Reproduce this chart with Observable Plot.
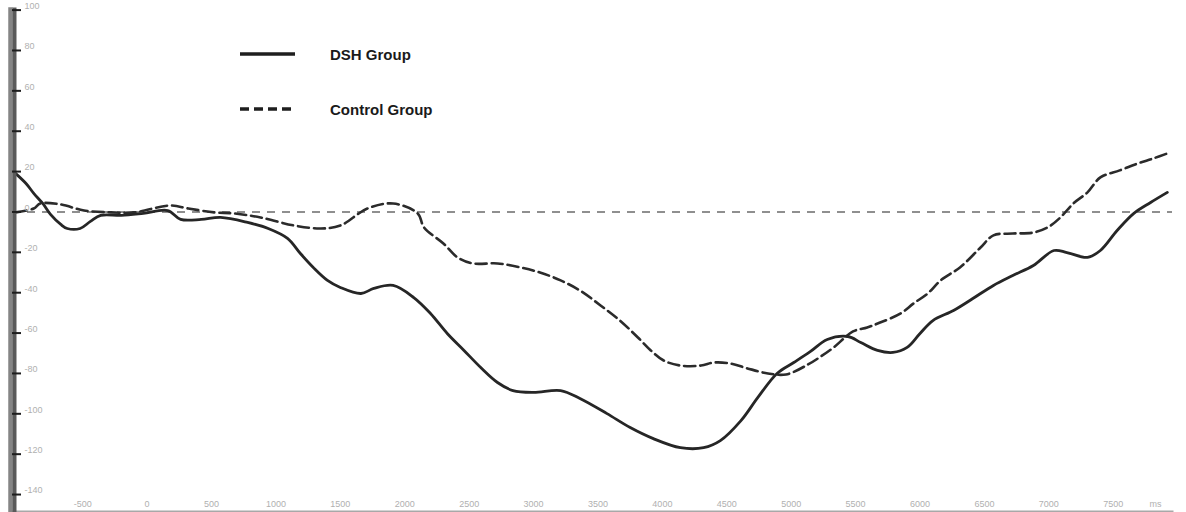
<!DOCTYPE html>
<html>
<head>
<meta charset="utf-8">
<script src="https://cdn.jsdelivr.net/npm/d3@7"></script>
<script src="https://cdn.jsdelivr.net/npm/@observablehq/plot@0.6"></script>
<style>
  html, body { margin: 0; padding: 0; background: #fff; }
  #wrap { position: relative; width: 1186px; height: 512px; font-family: "Liberation Sans", Arial, sans-serif; }
  .key { position: absolute; left: 238px; height: 20px; display: flex; align-items: center; font-weight: bold; font-size: 15px; color: #1a1a1a; }
  .key svg { display: block; width: 92px; height: 20px; }
</style>
</head>
<body>
<div id="wrap">
  <div id="chart"></div>
</div>
<script>
// Time axis (ms) and mean response for each group
const dshTime = [-1020,-940,-880,-810,-750,-670,-620,-520,-440,-360,-200,-30,160,260,420,570,780,940,1090,1190,
  1290,1400,1500,1660,1760,1910,2070,2200,2330,2460,2590,2720,2840,3000,3210,3360,3570,3750,3930,4140,
  4320,4450,4610,4740,4890,5020,5150,5280,5440,5540,5670,5790,5900,6000,6100,6260,6410,6570,6720,6880,
  7040,7140,7300,7400,7530,7660,7790,7920];
const dshValues = [19.0,14.1,9.2,4.2,-1.2,-6.2,-8.2,-8.2,-4.7,-1.7,-1.7,-0.7,0.7,-3.7,-3.7,-2.7,-5.2,-8.2,-13.1,-20.6,
  -27.5,-33.9,-37.4,-40.4,-37.9,-36.4,-42.4,-50.3,-60.2,-68.6,-77.1,-84.5,-88.5,-89.4,-88.5,-92.4,-99.9,-106.8,-112.3,-116.8,
  -116.8,-113.3,-103.4,-92.0,-80.0,-74.6,-69.1,-63.2,-61.7,-64.7,-68.6,-69.6,-67.1,-60.2,-53.8,-48.8,-42.9,-36.4,-31.5,-26.5,
  -19.1,-20.1,-22.5,-19.1,-9.2,-0.7,4.7,9.7];

const controlTime = [-1020,-880,-830,-670,-490,-280,-100,180,320,520,670,880,1140,1350,1500,1710,1910,2100,2150,2300,
  2410,2530,2720,2900,3050,3210,3360,3520,3670,3810,3910,4010,4140,4300,4400,4530,4660,4820,4960,5130,
  5230,5330,5480,5590,5690,5850,5950,6060,6160,6310,6470,6570,6720,6880,6990,7090,7190,7300,7400,7550,
  7690,7810,7920];
const controlValues = [-0.2,1.7,4.2,3.7,0.7,-0.2,-0.2,3.2,1.7,-0.2,-0.7,-2.7,-6.7,-8.2,-6.7,1.7,4.2,-0.7,-7.7,-15.6,
  -22.5,-25.5,-25.5,-27.5,-30.0,-33.9,-38.9,-46.3,-53.8,-62.2,-68.6,-73.6,-76.1,-76.1,-74.6,-75.1,-77.5,-80.0,-80.5,-75.6,
  -71.6,-67.1,-59.2,-57.2,-54.8,-50.3,-45.3,-40.4,-33.9,-27.5,-17.6,-11.6,-10.7,-10.2,-7.7,-2.7,4.2,9.7,17.1,20.6,
  24.0,26.5,29.0];

const seriesNames = ["DSH Group", "Control Group"];
const yTicks = [-140,-120,-100,-80,-60,-40,-20,0,20,40,60,80,100];
const xTicks = [-500,0,500,1000,1500,2000,2500,3000,3500,4000,4500,5000,5500,6000,6500,7000,7500];
const unitLabel = "ms";

const dshData = dshTime.map((t, i) => ({t, v: dshValues[i]}));
const controlData = controlTime.map((t, i) => ({t, v: controlValues[i]}));

const labelColor = "#b0b0b0";

const chart = Plot.plot({
  width: 1186,
  height: 512,
  marginLeft: 12,
  marginRight: 14,
  marginTop: 9,
  marginBottom: 1,
  style: {background: "#fff", fontFamily: "'Liberation Sans', Arial, sans-serif"},
  x: {domain: [-1045, 7960]},
  y: {domain: [-148.4, 100.3]},
  marks: [
    Plot.frame({anchor: "bottom", stroke: "#a8a8a8", strokeWidth: 2}),
    Plot.ruleY([0], {stroke: "#8f8f8f", strokeWidth: 2, strokeDasharray: "8,7"}),
    Plot.line(controlData, {x: "t", y: "v", curve: "catmull-rom", stroke: "#2b2b2b", strokeWidth: 2.6, strokeDasharray: "11,5"}),
    Plot.line(dshData, {x: "t", y: "v", curve: "catmull-rom", stroke: "#262626", strokeWidth: 2.8}),
    Plot.frame({anchor: "left", stroke: "#858585", strokeWidth: 4.5, dx: -2}),
    Plot.frame({anchor: "left", stroke: "#5a5a5a", strokeWidth: 4, dx: 2}),
    Plot.axisY(yTicks, {anchor: "left", tickSize: -9, tickFormat: () => "", stroke: "#1e1e1e", strokeWidth: 2, label: null}),
    Plot.text(yTicks, {y: d => d, text: d => String(d), frameAnchor: "left", dx: 12, dy: -4, textAnchor: "start", fontSize: 9, fill: labelColor}),
    Plot.axisX(xTicks, {anchor: "bottom", tickSize: 0, tickPadding: -5, lineAnchor: "bottom", tickFormat: d => String(d), fontSize: 9, fill: labelColor, label: null}),
    Plot.text([unitLabel], {text: d => d, frameAnchor: "bottom-right", dx: -17, dy: -5, lineAnchor: "bottom", textAnchor: "middle", fontSize: 9, fill: labelColor})
  ]
});
document.getElementById("chart").appendChild(chart);

// Line-style key drawn over the upper-left of the plot
const wrap = document.getElementById("wrap");
const keyStyles = [
  {top: 44, dash: null, width: 3.6},
  {top: 99, dash: "9,5", width: 3.4}
];
seriesNames.forEach((name, i) => {
  const k = keyStyles[i];
  const div = document.createElement("div");
  div.className = "key";
  div.style.top = k.top + "px";
  div.innerHTML = `<svg viewBox="0 0 92 20"><line x1="2" x2="57" y1="10" y2="10" stroke="#1e1e1e" stroke-width="${k.width}" ${k.dash ? `stroke-dasharray="${k.dash}"` : ""}/></svg><span>${name}</span>`;
  wrap.appendChild(div);
});
</script>
</body>
</html>
